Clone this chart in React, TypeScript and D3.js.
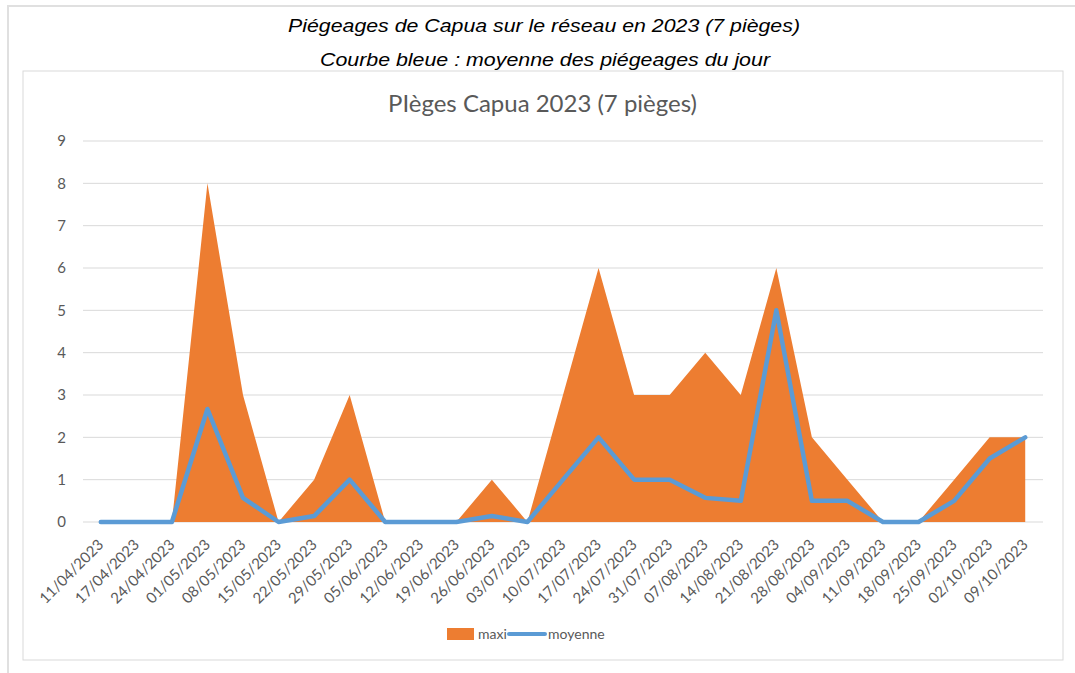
import React from 'react';
import * as d3 from 'd3';

const dates = [
  '11/04/2023', '17/04/2023', '24/04/2023', '01/05/2023', '08/05/2023', '15/05/2023',
  '22/05/2023', '29/05/2023', '05/06/2023', '12/06/2023', '19/06/2023', '26/06/2023',
  '03/07/2023', '10/07/2023', '17/07/2023', '24/07/2023', '31/07/2023', '07/08/2023',
  '14/08/2023', '21/08/2023', '28/08/2023', '04/09/2023', '11/09/2023', '18/09/2023',
  '25/09/2023', '02/10/2023', '09/10/2023',
];
const maxi = [0, 0, 0, 8, 3, 0, 1, 3, 0, 0, 0, 1, 0, 3, 6, 3, 3, 4, 3, 6, 2, 1, 0, 0, 1, 2, 2];
const moyenne = [0, 0, 0, 2.67, 0.57, 0, 0.14, 1, 0, 0, 0, 0.14, 0, 1, 2, 1, 1, 0.57, 0.5, 5, 0.5, 0.5, 0, 0, 0.5, 1.5, 2];
const yTicks = [0, 1, 2, 3, 4, 5, 6, 7, 8, 9];

const W = 1075;
const H = 673;
const plot = { left: 83, right: 1043, top: 141, bottom: 522 };

const ORANGE = '#ED7D31';
const BLUE = '#5B9BD5';
const GRID = '#D9D9D9';
const TEXT = '#595959';
const FONT = 'Lato, "Open Sans", sans-serif';

const App: React.FC = () => {
  const x = d3.scaleBand<string>().domain(dates).range([plot.left, plot.right]);
  const cx = (d: string) => (x(d) ?? 0) + x.bandwidth() / 2;
  const y = d3.scaleLinear().domain([0, 9]).range([plot.bottom, plot.top]);

  const area = d3.area<number>()
    .x((_, i) => cx(dates[i]))
    .y0(y(0))
    .y1(d => y(d));
  const line = d3.line<number>()
    .x((_, i) => cx(dates[i]))
    .y(d => y(d));

  return (
    <svg width={W} height={H} style={{ position: 'fixed', left: 0, top: 0, background: '#fff' }}>
      {/* outer frame */}
      <path d={`M8,${H + 2} V6 H${W + 2}`} fill="none" stroke="#E0E0E0" strokeWidth={2} />

      <g fontFamily='"Liberation Sans", Arial, sans-serif' fontStyle="italic" fontSize={19} fill="#000">
        <text x={288} y={32} textLength={512} lengthAdjust="spacingAndGlyphs">
          Piégeages de Capua sur le réseau en 2023 (7 pièges)
        </text>
        <text x={320} y={66} textLength={450} lengthAdjust="spacingAndGlyphs">
          Courbe bleue : moyenne des piégeages du jour
        </text>
      </g>

      {/* chart box */}
      <rect x={23} y={71} width={1040} height={589} fill="#fff" stroke={GRID} strokeWidth={1} />

      <text x={388} y={112} textLength={309} lengthAdjust="spacingAndGlyphs" fontFamily={FONT} fontSize={23} fill={TEXT}>
        PIèges Capua 2023 (7 pièges)
      </text>

      {/* gridlines + y labels */}
      <g>
        {yTicks.map(t => (
          <g key={t}>
            <line x1={plot.left} x2={plot.right} y1={y(t)} y2={y(t)} stroke={GRID} strokeWidth={1} />
            <text x={66} y={y(t)} dy="0.35em" textAnchor="end" fontFamily={FONT} fontSize={15} fill={TEXT}>
              {t}
            </text>
          </g>
        ))}
      </g>

      <path d={area(maxi) ?? ''} fill={ORANGE} />
      <path d={line(moyenne) ?? ''} fill="none" stroke={BLUE} strokeWidth={4.5} strokeLinejoin="round" strokeLinecap="round" />

      {/* x labels */}
      <g fontFamily={FONT} fontSize={15} fill={TEXT}>
        {dates.map(d => (
          <text key={d} transform={`translate(${cx(d)},${plot.bottom + 20}) rotate(-45)`} textAnchor="end" dy="0.35em">
            {d}
          </text>
        ))}
      </g>

      {/* legend */}
      <g fontFamily={FONT} fontSize={14} fill={TEXT}>
        <rect x={447} y={628} width={27} height={12} fill={ORANGE} />
        <text x={478} y={634} dy="0.35em">maxi</text>
        <line x1={509} x2={545} y1={634} y2={634} stroke={BLUE} strokeWidth={4} strokeLinecap="round" />
        <text x={548} y={634} dy="0.35em">moyenne</text>
      </g>
    </svg>
  );
};

export default App;
